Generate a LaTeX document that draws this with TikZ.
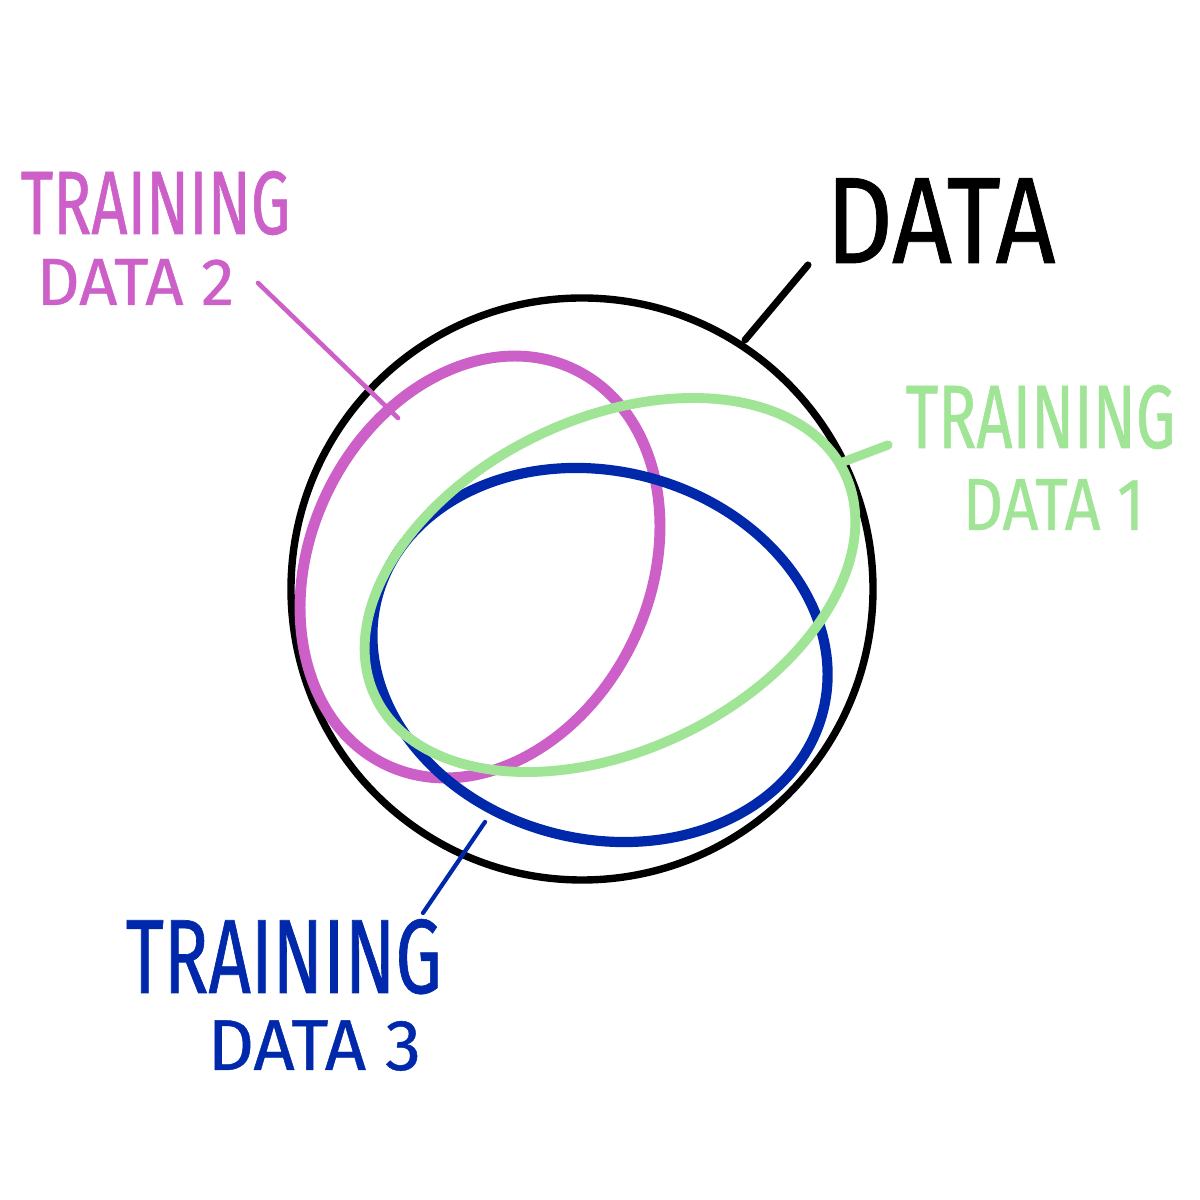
\documentclass[tikz,border=0pt]{standalone}
\usepackage{fontspec}
\usepackage{tikz}
\newfontfamily\handfont[FakeStretch=0.7, FakeBold=0.6]{Fira Sans}
\newfontfamily\handwide[FakeStretch=0.85, FakeBold=0.6]{Fira Sans}
\newfontfamily\handnorm[FakeBold=0.6]{Fira Sans}
\definecolor{setone}{RGB}{160,228,150}
\definecolor{settwo}{RGB}{204,95,200}
\definecolor{setthree}{RGB}{0,40,170}

\begin{document}
\begin{tikzpicture}[x=0.01cm, y=0.01cm, line cap=round,
  lbl/.style={anchor=base west, inner sep=0pt},
  leader/.style={line width=#1}]
  \useasboundingbox[fill=white] (0,0) rectangle (1200,1200);

  % all data
  \draw[line width=2.1pt] (582,611) circle [radius=291];

  % training subsets
  \draw[settwo, line width=3.1pt, rotate around={64.7:(480,633)}]
    (480,633) ellipse [x radius=219, y radius=170];
  \draw[setthree, line width=2.9pt, rotate around={-14:(600,545)}]
    (600,545) ellipse [x radius=230, y radius=184];
  \draw[setone, line width=2.8pt, rotate around={25.5:(610,615)}]
    (610,615) ellipse [x radius=260, y radius=166];

  % labels
  \node[lbl, font=\handwide\fontsize{35}{38}\selectfont] (data) at (825,937) {DATA};
  \node[lbl, settwo, font=\handfont\fontsize{25.6}{30}\selectfont] (trtwo) at (20,966) {TRAINING};
  \node[lbl, settwo, font=\handnorm\fontsize{19}{22}\selectfont] (dtwo) at (36,895) {DATA 2};
  \node[lbl, setone, font=\handfont\fontsize{25.6}{30}\selectfont] (trone) at (905,752) {TRAINING};
  \node[lbl, setone, font=\handwide\fontsize{21}{26}\selectfont] (done) at (962,670) {DATA 1};
  \node[lbl, setthree, font=\handfont\fontsize{30}{36}\selectfont] (trthree) at (125,207) {TRAINING};
  \node[lbl, setthree, font=\handnorm\fontsize{20.5}{26}\selectfont] (dthree) at (207,130) {DATA 3};

  % leader lines
  \coordinate (c0) at (745,860);
  \coordinate (c1) at (808,935);
  \coordinate (c2a) at (398,782);
  \coordinate (c2b) at (258,917);
  \coordinate (c1a) at (843,738);
  \coordinate (c1b) at (888,755);
  \coordinate (c3a) at (485,378);
  \coordinate (c3b) at (423,287);
  \draw[leader=2pt] (c0) -- (c1);
  \draw[settwo, leader=1.3pt] (c2a) -- (c2b);
  \draw[setone, leader=2.6pt] (c1a) -- (c1b);
  \draw[setthree, leader=1.2pt] (c3a) -- (c3b);
\end{tikzpicture}
\end{document}
